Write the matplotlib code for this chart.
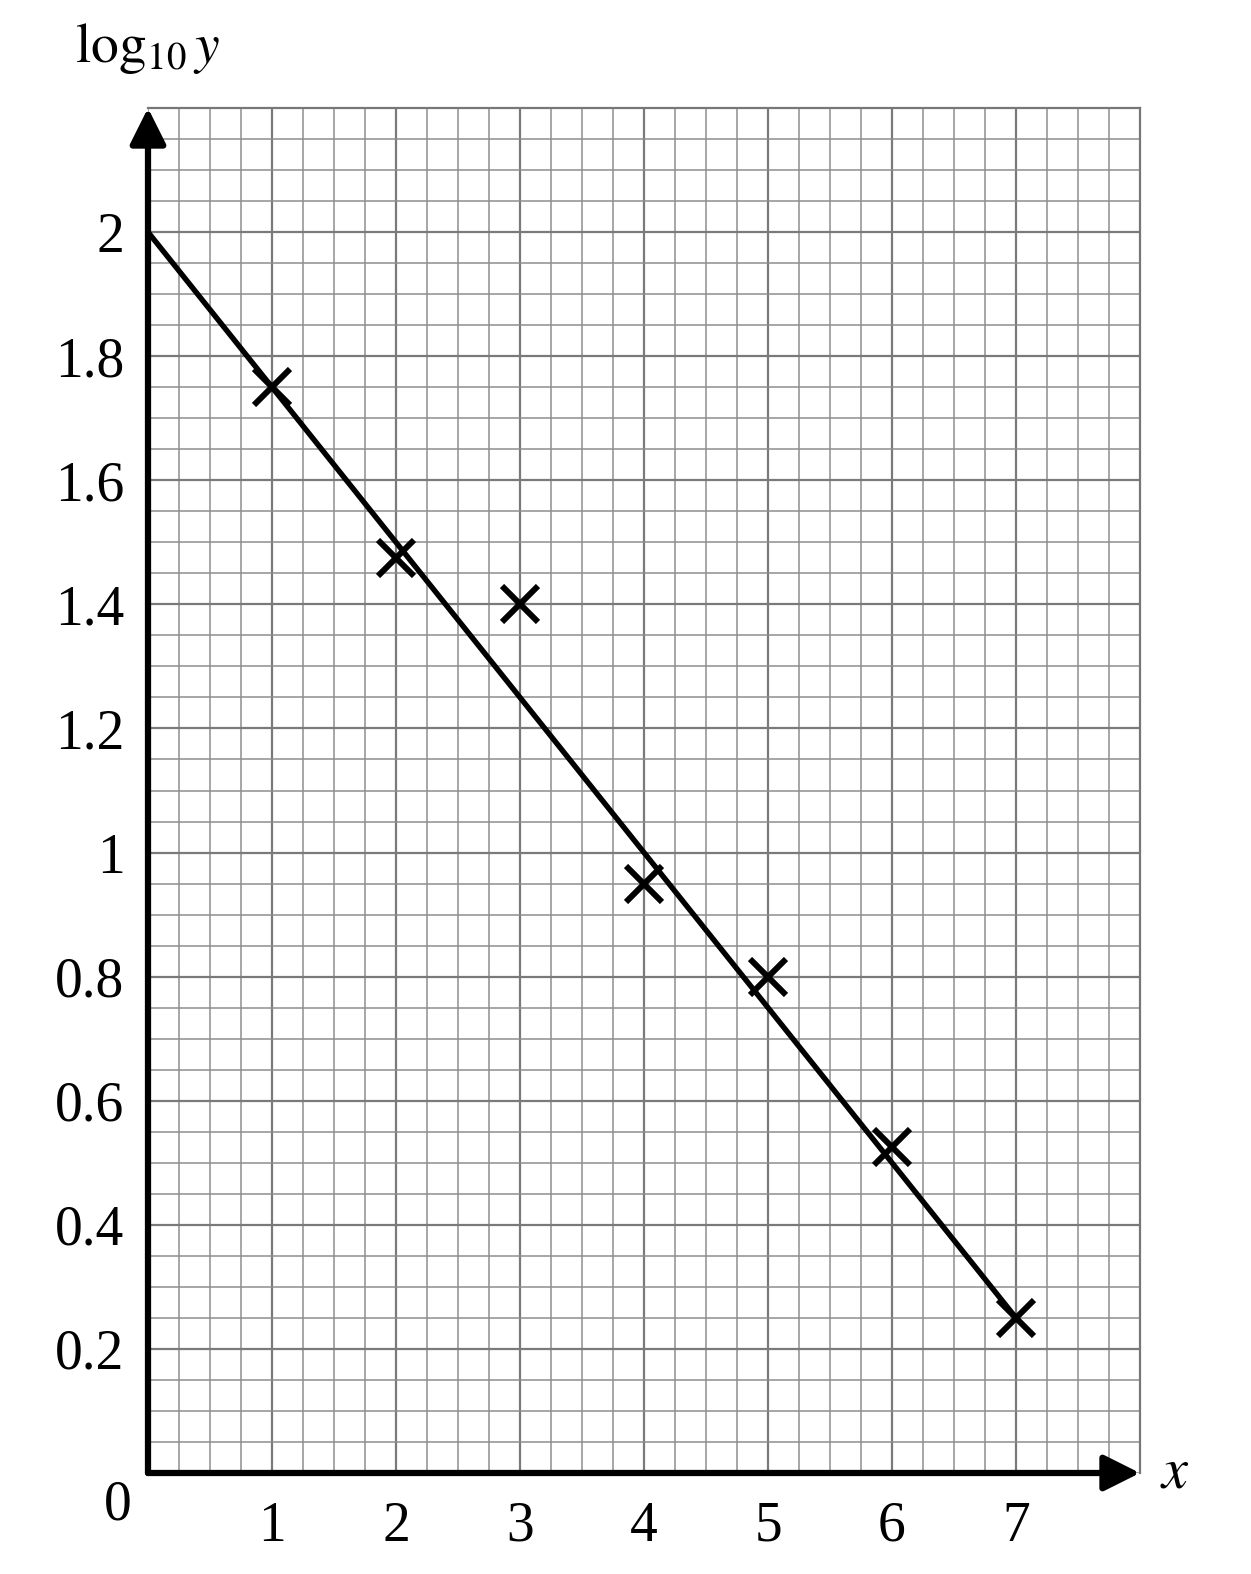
import numpy as np
import matplotlib
matplotlib.use('Agg')
import matplotlib.pyplot as plt
import matplotlib.ticker as tck

plt.rcParams['font.family'] = ['Liberation Serif', 'DejaVu Serif']
plt.rcParams['mathtext.fontset'] = 'stix'

# data
x_pts = [1, 2, 3, 4, 5, 6, 7]
logy_pts = [1.75, 1.475, 1.40, 0.95, 0.80, 0.525, 0.25]
line_x = [0, 7]
line_y = [2.0, 0.25]
x_ticks = [1, 2, 3, 4, 5, 6, 7]
x_tick_labels = ['1', '2', '3', '4', '5', '6', '7']
y_ticks = [0.2, 0.4, 0.6, 0.8, 1.0, 1.2, 1.4, 1.6, 1.8, 2.0]
y_tick_labels = ['0.2', '0.4', '0.6', '0.8', '1', '1.2', '1.4', '1.6', '1.8', '2']

W, H = 1251, 1574
fig = plt.figure(figsize=(W/100, H/100), dpi=100)
ax = fig.add_axes([148/W, (H-1473)/H, (1140-148)/W, (1473-108)/H])
ax.set_xlim(0, 8)
ax.set_ylim(0, 2.2)

# graph paper
ax.xaxis.set_minor_locator(tck.MultipleLocator(0.25))
ax.yaxis.set_minor_locator(tck.MultipleLocator(0.05))
ax.grid(which='minor', color='#8e8e8e', linewidth=1.1)
ax.grid(which='major', color='#7a7a7a', linewidth=1.6)
ax.set_axisbelow(True)
for s in ['left', 'bottom']:
    ax.spines[s].set_visible(False)
for s in ['top', 'right']:
    ax.spines[s].set_color('#777777')
    ax.spines[s].set_linewidth(1.6)

ax.set_xticks(x_ticks, x_tick_labels)
ax.set_yticks(y_ticks, y_tick_labels)
ax.tick_params(which='both', length=0)
ax.tick_params(axis='y', labelsize=40, pad=17)
ax.tick_params(axis='x', labelsize=40, pad=20)

# axes with arrows
arrow_style = dict(arrowstyle='-|>,head_length=1.0,head_width=0.5',
                   lw=4.5, color='black', shrinkA=0, shrinkB=0, mutation_scale=22)
ax.annotate('', xy=(0, 2.2), xytext=(0, 0), annotation_clip=False, arrowprops=arrow_style)
ax.annotate('', xy=(8, 0), xytext=(0, 0), annotation_clip=False, arrowprops=arrow_style)

ax.plot(line_x, line_y, color='black', linewidth=3.9, solid_capstyle='butt')
ax.plot(x_pts, logy_pts, linestyle='none', marker='x', markersize=26,
        markeredgewidth=4.3, color='black')

fig.text(118/W, 1-1505/H, '0', fontsize=40, ha='center', va='center')
fig.text(148/W, 1-48/H, r'$\mathrm{log}_{10}\,y$', fontsize=40, ha='center', va='center')
fig.text(1175/W, 1-1473/H, r'$x$', fontsize=42, ha='center', va='center')

plt.savefig('out.png', dpi=100)
